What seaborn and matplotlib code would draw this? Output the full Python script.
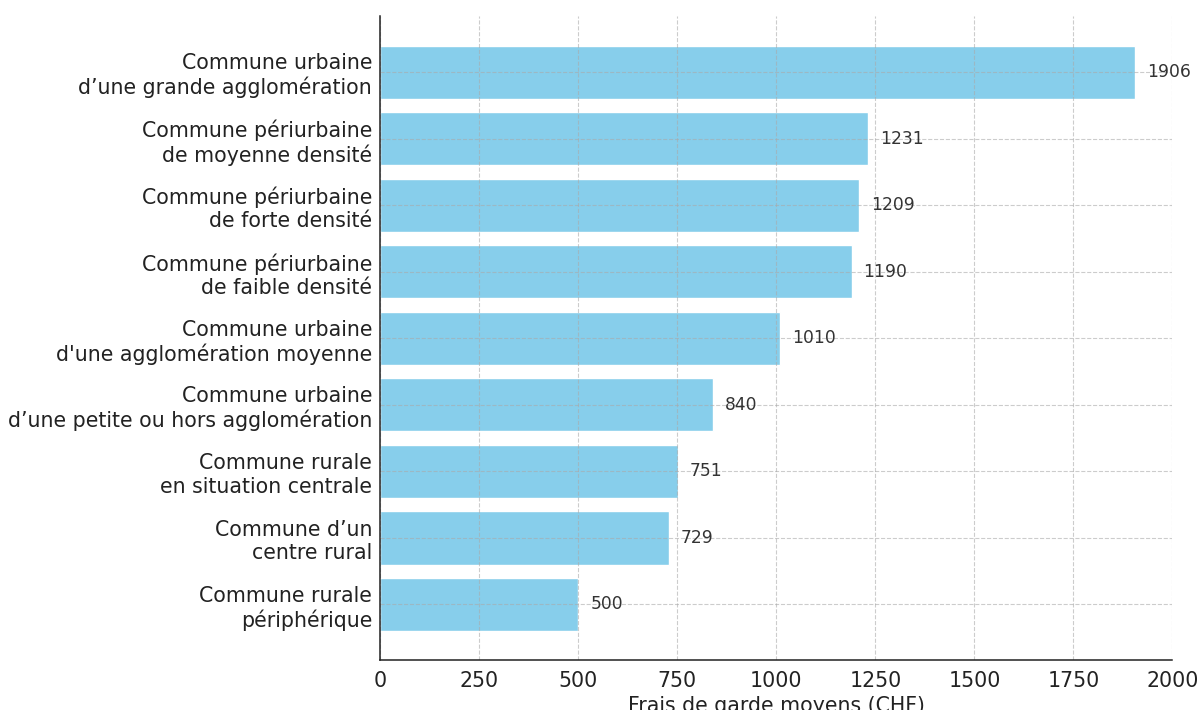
import numpy as np
import pandas as pd
import matplotlib
matplotlib.use("Agg")
import matplotlib.pyplot as plt
import seaborn as sns

categories = [
    "Commune urbaine\nd’une grande agglomération",
    "Commune périurbaine\nde moyenne densité",
    "Commune périurbaine\nde forte densité",
    "Commune périurbaine\nde faible densité",
    "Commune urbaine\nd'une agglomération moyenne",
    "Commune urbaine\nd’une petite ou hors agglomération",
    "Commune rurale\nen situation centrale",
    "Commune d’un\ncentre rural",
    "Commune rurale\npériphérique",
]
frais = [1906, 1231, 1209, 1190, 1010, 840, 751, 729, 500]
x_ticks = [0, 250, 500, 750, 1000, 1250, 1500, 1750, 2000]

df = pd.DataFrame({"Type": categories, "Frais": frais})

sns.set_style("white")
plt.rcParams['font.family'] = ['DejaVu Sans']

fig = plt.figure(figsize=(12, 7.1), dpi=100)
ax = fig.add_axes([0.317, 0.07, 0.66, 0.907])

sns.barplot(data=df, x="Frais", y="Type", orient="h", color="#87CEEB",
            saturation=1, width=0.8, ax=ax)
for p in ax.patches:
    p.set_zorder(1)

# valeurs au bout des barres
for i, v in enumerate(frais):
    ax.text(v + 30, i, str(v), va="center", ha="left", fontsize=12.3, color="#333333")

ax.set_xlim(0, 2000)
ax.set_ylim(len(frais) - 1 + 0.84, -0.84)
ax.set_xticks(x_ticks)
ax.set_xlabel("Frais de garde moyens (CHF)", fontsize=14.8, color="#222222")
ax.set_ylabel("")
ax.tick_params(axis="x", labelsize=14.8, length=4, color="#333333")
ax.tick_params(axis="y", labelsize=14.8, length=4, color="#333333", pad=2)
for lab in ax.get_yticklabels():
    lab.set_color("#222222")
for lab in ax.get_xticklabels():
    lab.set_color("#222222")

# grille en pointillés, légèrement visible par-dessus les barres
ax.set_axisbelow(False)
ax.grid(True, linestyle="--", color="#aaaaaa", alpha=0.6, linewidth=0.8, zorder=3)
sns.despine(ax=ax, top=True, right=True)
for side in ["left", "bottom"]:
    ax.spines[side].set_color("#222222")
    ax.spines[side].set_linewidth(1.1)
    ax.spines[side].set_zorder(5)

fig.savefig("out.png", dpi=100)
